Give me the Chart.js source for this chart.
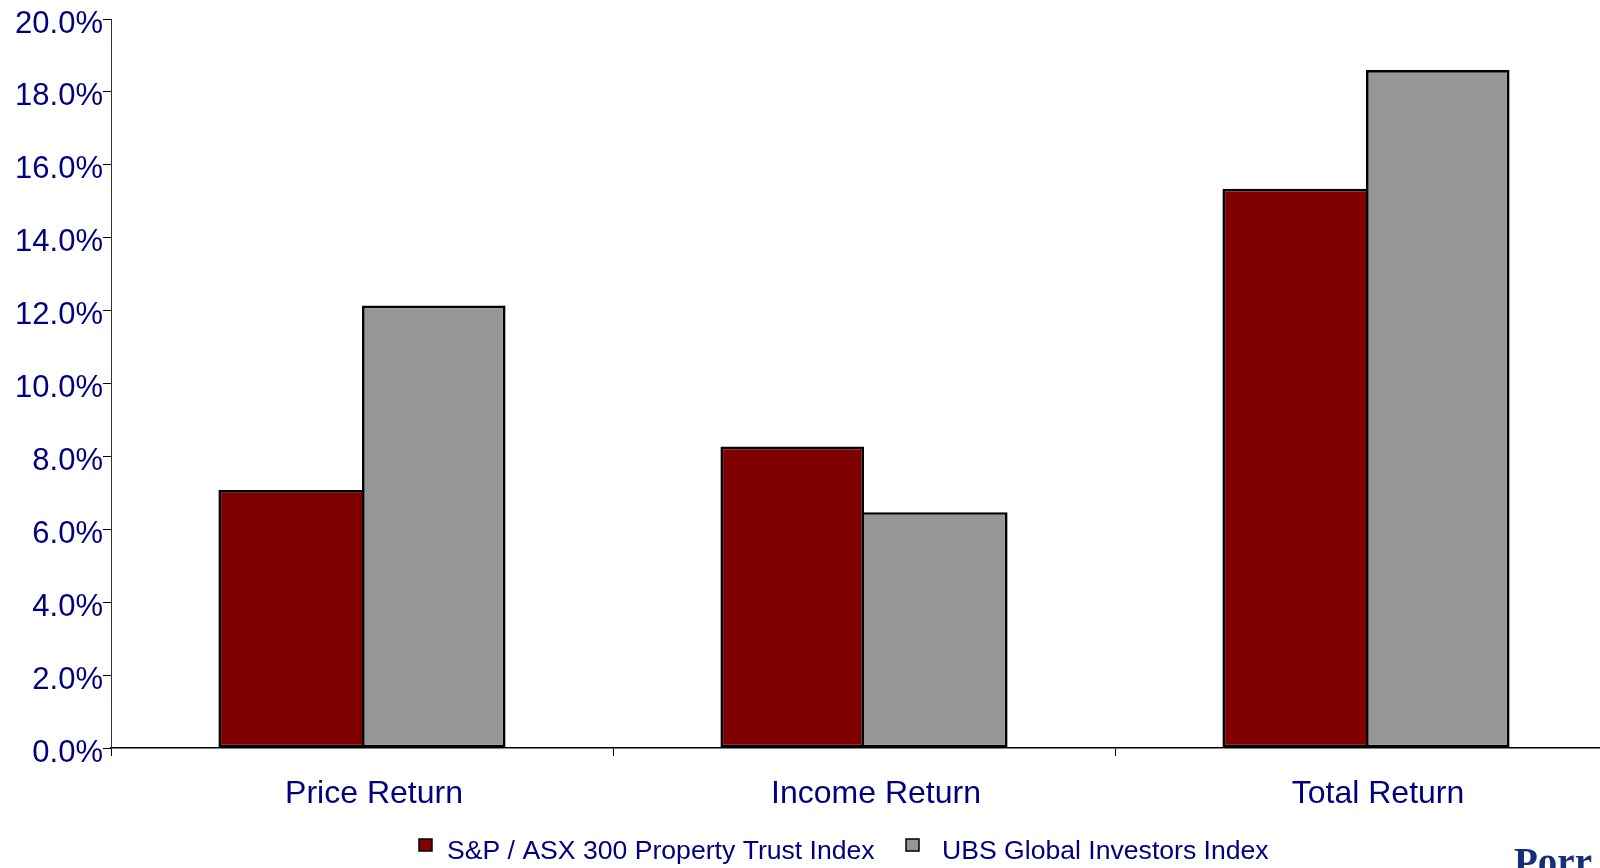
<!DOCTYPE html>
<html>
<head>
<meta charset="utf-8">
<title>Property Trust Returns</title>
<script src="https://cdn.jsdelivr.net/npm/chart.js@4/dist/chart.umd.min.js"></script>
<style>
  html, body { margin: 0; padding: 0; background: #fff; width: 1600px; height: 868px; overflow: hidden; position: relative; }
  #chart { position: absolute; left: 0; top: 0; }
  #brand {
    position: absolute; left: 1514px; top: 842px;
    font-family: "Liberation Serif", "DejaVu Serif", serif; font-weight: bold;
    font-size: 39px; color: #14307a; white-space: nowrap; line-height: 1;
  }
</style>
</head>
<body>
<canvas id="chart" width="1640" height="868"></canvas>
<div id="brand">Porr</div>
<script>
// Return components
const categories = ['Price Return', 'Income Return', 'Total Return'];
const seriesNames = ['S&P / ASX 300 Property Trust Index', 'UBS Global Investors Index'];
const asxValues = [7.08, 8.27, 15.34];
const ubsValues = [12.14, 6.47, 18.6];
const yTicks = { min: 0, max: 20, step: 2 };

const NAVY = '#000080';
const FONT = '"Liberation Sans", Arial, sans-serif';
const EDGE = 2.7;

// Paired bars share one outline on their common side: the taller bar keeps it.
function pairedBorder(ctx) {
  const i = ctx.dataIndex;
  const first = ctx.datasetIndex === 0;
  const own = first ? asxValues[i] : ubsValues[i];
  const other = first ? ubsValues[i] : asxValues[i];
  const inner = own >= other ? EDGE : 0;
  return first
    ? { top: EDGE, bottom: EDGE, left: EDGE, right: inner }
    : { top: EDGE, bottom: EDGE, left: inner, right: EDGE };
}

// Legend drawn below the category labels
const bottomLegend = {
  id: 'bottomLegend',
  afterDraw(chart, args, opts) {
    const ctx = chart.ctx;
    ctx.save();
    ctx.font = opts.fontSize + 'px ' + FONT;
    ctx.textBaseline = 'middle';
    ctx.textAlign = 'left';
    chart.data.datasets.forEach((ds, i) => {
      const item = opts.items[i];
      ctx.fillStyle = ds.backgroundColor;
      ctx.fillRect(item.boxX, opts.boxY, opts.boxW, opts.boxH);
      ctx.strokeStyle = '#000';
      ctx.lineWidth = 1.5;
      ctx.strokeRect(item.boxX, opts.boxY, opts.boxW, opts.boxH);
      ctx.fillStyle = NAVY;
      ctx.fillText(ds.label, item.textX, opts.textY);
    });
    ctx.restore();
  }
};

new Chart(document.getElementById('chart'), {
  type: 'bar',
  data: {
    labels: categories,
    datasets: [
      {
        label: seriesNames[0],
        data: asxValues,
        backgroundColor: '#800000',
        borderColor: '#000',
        borderWidth: pairedBorder,
        borderSkipped: false,
        barPercentage: 1,
        categoryPercentage: 0.572
      },
      {
        label: seriesNames[1],
        data: ubsValues,
        backgroundColor: '#969696',
        borderColor: '#000',
        borderWidth: pairedBorder,
        borderSkipped: false,
        barPercentage: 1,
        categoryPercentage: 0.572
      }
    ]
  },
  options: {
    responsive: false,
    animation: false,
    devicePixelRatio: 1,
    layout: { padding: { left: 0, top: 19, right: 23, bottom: 0 } },
    plugins: {
      legend: { display: false },
      tooltip: { enabled: false },
      bottomLegend: {
        fontSize: 26.6,
        boxY: 839, boxW: 13, boxH: 12, textY: 852,
        items: [ { boxX: 419, textX: 447 }, { boxX: 906, textX: 942 } ]
      }
    },
    scales: {
      x: {
        offset: true,
        grid: { offset: true, drawOnChartArea: false, drawTicks: true, tickLength: 8, color: '#000', lineWidth: 1 },
        border: { display: true, color: '#000', width: 1.5 },
        ticks: {
          color: NAVY,
          font: { family: FONT, size: 32 },
          padding: 19,
          labelOffset: 12,
          maxRotation: 0
        },
        afterFit(scale) { scale.height = 120; }
      },
      y: {
        min: yTicks.min,
        max: yTicks.max,
        grid: { drawOnChartArea: false, drawTicks: true, tickLength: 8, color: '#000', lineWidth: 1 },
        border: { display: true, color: '#333', width: 1 },
        ticks: {
          stepSize: yTicks.step,
          color: NAVY,
          font: { family: FONT, size: 31 },
          padding: 0,
          labelOffset: 5,
          callback: v => v.toFixed(1) + '%'
        },
        afterFit(scale) { scale.width = 111; }
      }
    }
  },
  plugins: [bottomLegend]
});
</script>
</body>
</html>
